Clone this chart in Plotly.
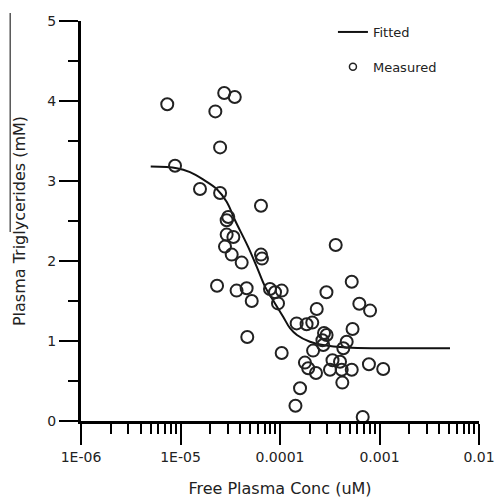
import plotly.graph_objects as go

# measured points (free plasma conc in uM, triglycerides in mM)
measured_conc = [
    7.36e-6, 2.75e-5, 3.51e-5, 2.24e-5, 2.50e-5, 8.81e-6, 1.57e-5, 2.50e-5,
    6.44e-5, 3.02e-5, 2.91e-5, 2.91e-5, 3.40e-5, 2.80e-5, 3.27e-5, 4.12e-5,
    6.44e-5, 6.59e-5, 2.33e-5, 3.66e-5, 4.62e-5, 5.20e-5, 7.93e-5, 8.91e-5,
    1.04e-4, 9.55e-5, 4.69e-5, 1.04e-4, 1.47e-4, 1.59e-4, 1.43e-4, 3.63e-4,
    5.26e-4, 2.93e-4, 6.27e-4, 8.04e-4, 2.34e-4, 1.85e-4, 2.11e-4, 5.36e-4,
    2.94e-4, 2.67e-4, 4.68e-4, 4.33e-4, 2.15e-4, 2.72e-4, 1.78e-4, 1.92e-4,
    2.30e-4, 3.18e-4, 3.37e-4, 4.01e-4, 4.17e-4, 5.26e-4, 4.23e-4, 7.83e-4,
    1.09e-3, 6.78e-4, 2.77e-4,
]
measured_tg = [
    3.96, 4.10, 4.05, 3.87, 3.42, 3.19, 2.90, 2.85,
    2.69, 2.55, 2.51, 2.33, 2.30, 2.18, 2.08, 1.98,
    2.08, 2.03, 1.69, 1.63, 1.66, 1.50, 1.65, 1.61,
    1.63, 1.47, 1.05, 0.85, 1.22, 0.41, 0.19, 2.20,
    1.74, 1.61, 1.465, 1.38, 1.40, 1.21, 1.23, 1.15,
    1.075, 1.01, 0.99, 0.91, 0.88, 0.95, 0.73, 0.66,
    0.60, 0.64, 0.76, 0.74, 0.64, 0.64, 0.48, 0.71,
    0.65, 0.05, 1.10,
]

# fitted curve
fitted_conc = [
    5.02e-6, 9.16e-6, 1.246e-5, 1.683e-5, 2.31e-5, 2.91e-5, 3.53e-5, 4.77e-5,
    5.83e-5, 7.07e-5, 8.91e-5, 1.079e-4, 1.26e-4, 1.48e-4, 2.0e-4, 2.70e-4,
    4.71e-4, 5.11e-3,
]
fitted_tg = [
    3.18, 3.16, 3.11, 3.02, 2.90, 2.74, 2.51, 2.18,
    1.93, 1.68, 1.47, 1.30, 1.16, 1.075, 0.99, 0.95,
    0.92, 0.91,
]

x_tickvals = [1e-6, 1e-5, 1e-4, 1e-3, 1e-2]
x_ticktext = ['1E-06', '1E-05', '0.0001', '0.001', '0.01']

FONT = 'DejaVu Sans'
INK = '#222222'

fig = go.Figure()

fig.add_trace(go.Scatter(
    x=fitted_conc, y=fitted_tg,
    mode='lines', name='Fitted',
    line=dict(color='#111111', width=2, shape='spline'),
    legendgroup='a',
))

fig.add_trace(go.Scatter(
    x=measured_conc, y=measured_tg,
    mode='markers', name='Measured', showlegend=False,
    marker=dict(symbol='circle-open', size=12, color=INK, line=dict(width=2, color=INK)),
    cliponaxis=False,
))

# small marker only for the legend entry
fig.add_trace(go.Scatter(
    x=[None], y=[None],
    mode='markers', name='Measured',
    marker=dict(symbol='circle-open', size=7, color=INK, line=dict(width=1.5, color=INK)),
    legendgroup='b',
))

fig.update_layout(
    width=497, height=499,
    margin=dict(l=81, r=18, t=21, b=78),
    plot_bgcolor='white', paper_bgcolor='white',
    font=dict(family=FONT, color=INK, size=14),
    legend=dict(
        x=0.633, y=1.01, xanchor='left', yanchor='top',
        font=dict(size=13, family=FONT, color=INK),
        bgcolor='rgba(0,0,0,0)', tracegroupgap=15, traceorder='grouped',
    ),
    xaxis=dict(
        type='log', range=[-6, -2], automargin=False,
        tickvals=x_tickvals, ticktext=x_ticktext,
        ticks='outside', ticklen=21, tickwidth=2, tickcolor='black',
        showline=True, linewidth=3, linecolor='black',
        showgrid=False, zeroline=False,
        tickfont=dict(size=14),
        minor=dict(ticks='outside', ticklen=10, tickwidth=2, tickcolor='black',
                   dtick='D1', showgrid=False),
        title=dict(text='Free Plasma Conc (uM)', font=dict(size=16), standoff=20),
    ),
    yaxis=dict(
        range=[0, 5], dtick=1, automargin=False,
        ticks='outside', ticklen=19, tickwidth=2, tickcolor='black',
        showline=True, linewidth=3, linecolor='black',
        showgrid=False, zeroline=False,
        tickfont=dict(size=14),
        minor=dict(ticks='outside', ticklen=10, tickwidth=2, tickcolor='black',
                   dtick=0.5, showgrid=False),
        title=dict(text='Plasma Triglycerides (mM)', font=dict(size=16), standoff=18),
    ),
)

# thin stray rule at the far left of the original image
fig.add_shape(type='line', xref='paper', yref='paper',
              x0=-0.178, x1=-0.178, y0=1.02, y1=0.4725,
              line=dict(color='black', width=1))

# drop the default body margin so the figure fills the window exactly
fig.write_html('out.html', config={'displayModeBar': False},
               post_script="document.body.style.margin='0';")
